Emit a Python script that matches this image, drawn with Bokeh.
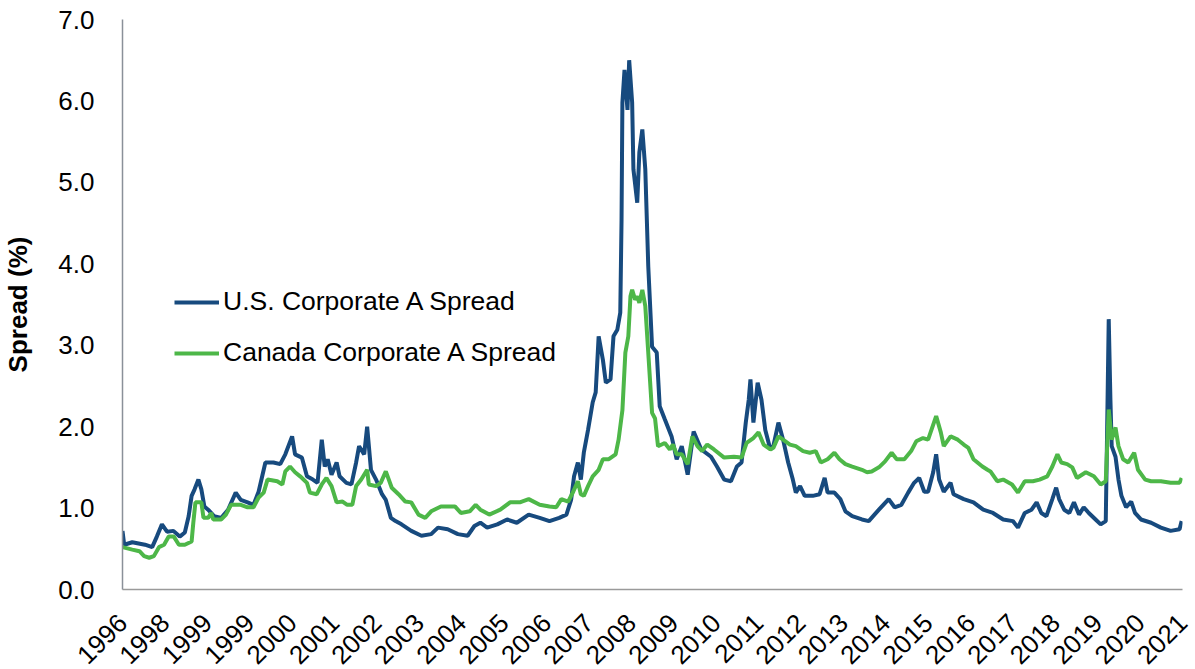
from math import pi
from bokeh.plotting import figure
from bokeh.models import Range1d, FixedTicker, Legend, LegendItem, NumeralTickFormatter
from bokeh.embed import file_html
from bokeh.resources import INLINE

tick_labels = ["1996", "1998", "1999", "1999", "2000", "2001", "2002", "2003", "2004",
               "2005", "2006", "2007", "2008", "2009", "2010", "2011", "2012", "2013",
               "2014", "2015", "2016", "2017", "2018", "2019", "2020", "2021"]
y_ticks = [0, 1, 2, 3, 4, 5, 6, 7]

# U.S. Corporate A Spread (x = position along the date axis, 1 unit per tick label)
us_t = [0.00, 0.04, 0.23, 0.53, 0.70, 0.81, 0.93, 1.05, 1.20, 1.35, 1.47, 1.56, 1.63, 1.70, 1.79,
        1.86, 1.93, 2.02, 2.16, 2.33, 2.49, 2.67, 2.79, 2.95, 3.09, 3.21, 3.37, 3.56, 3.72, 3.84,
        4.00, 4.07, 4.23, 4.35, 4.49, 4.60, 4.70, 4.77, 4.84, 4.93, 5.05, 5.12, 5.28, 5.40, 5.51,
        5.58, 5.70, 5.77, 5.86, 5.98, 6.12, 6.21, 6.33, 6.44, 6.58, 6.81, 7.05, 7.28, 7.44, 7.67,
        7.91, 8.14, 8.30, 8.44, 8.60, 8.84, 9.07, 9.30, 9.58, 9.84, 10.07, 10.30, 10.47, 10.58,
        10.65, 10.74, 10.81, 10.88, 10.98, 11.09, 11.16, 11.23, 11.33, 11.40, 11.51, 11.58, 11.67,
        11.74, 11.77, 11.79, 11.84, 11.91, 11.95, 12.02, 12.05, 12.14, 12.19, 12.26, 12.33, 12.40,
        12.49, 12.60, 12.67, 12.79, 12.95, 13.07, 13.19, 13.33, 13.47, 13.65, 13.88, 14.02, 14.19,
        14.35, 14.49, 14.60, 14.70, 14.77, 14.81, 14.88, 14.98, 15.07, 15.16, 15.28, 15.35, 15.47,
        15.58, 15.70, 15.81, 15.88, 15.98, 16.09, 16.28, 16.44, 16.56, 16.63, 16.79, 16.93, 17.05,
        17.21, 17.44, 17.60, 17.84, 18.07, 18.21, 18.37, 18.53, 18.67, 18.79, 18.91, 19.00, 19.12,
        19.19, 19.26, 19.37, 19.53, 19.60, 19.84, 20.07, 20.30, 20.53, 20.77, 21.00, 21.12, 21.28,
        21.44, 21.56, 21.67, 21.79, 21.93, 22.02, 22.09, 22.21, 22.33, 22.44, 22.56, 22.67, 22.79,
        22.95, 23.07, 23.19, 23.21, 23.26, 23.30, 23.33, 23.42, 23.49, 23.56, 23.67, 23.79, 23.88,
        24.02, 24.26, 24.49, 24.72, 24.93, 24.98]
us_v = [0.72, 0.55, 0.58, 0.55, 0.52, 0.65, 0.80, 0.71, 0.72, 0.65, 0.70, 0.90, 1.15, 1.23, 1.35,
        1.23, 1.02, 0.98, 0.90, 0.88, 0.98, 1.19, 1.10, 1.07, 1.04, 1.20, 1.56, 1.56, 1.54, 1.66,
        1.88, 1.66, 1.62, 1.39, 1.35, 1.31, 1.84, 1.51, 1.60, 1.41, 1.56, 1.39, 1.31, 1.29, 1.56,
        1.76, 1.66, 2.00, 1.47, 1.35, 1.17, 1.10, 0.88, 0.84, 0.80, 0.72, 0.66, 0.68, 0.76, 0.74,
        0.68, 0.66, 0.78, 0.82, 0.76, 0.80, 0.86, 0.82, 0.92, 0.88, 0.84, 0.88, 0.92, 1.10,
        1.39, 1.56, 1.35, 1.68, 1.96, 2.30, 2.42, 3.11, 2.82, 2.54, 2.58, 3.11, 3.19,
        3.40, 4.54, 5.98, 6.38, 5.89, 6.50, 5.98, 5.16, 4.75, 5.37, 5.65, 5.16, 3.97,
        2.98, 2.91, 2.25, 2.09, 1.88, 1.60, 1.76, 1.41, 1.94, 1.72, 1.63, 1.51, 1.35,
        1.33, 1.51, 1.56, 2.05, 2.33, 2.58, 2.05, 2.54, 2.33, 1.96, 1.72, 1.76, 2.05,
        1.84, 1.56, 1.35, 1.19, 1.27, 1.15, 1.15, 1.17, 1.37, 1.19, 1.19, 1.11, 0.96,
        0.90, 0.86, 0.84, 0.98, 1.11, 1.01, 1.04, 1.19, 1.31, 1.37, 1.20, 1.20, 1.44,
        1.66, 1.35, 1.20, 1.31, 1.17, 1.11, 1.07, 0.98, 0.94, 0.86, 0.84, 0.76, 0.94,
        0.98, 1.07, 0.94, 0.90, 1.11, 1.25, 1.11, 0.98, 0.94, 1.07, 0.92, 1.01, 0.94,
        0.86, 0.80, 0.84, 1.51, 3.32, 2.33, 1.76, 1.63, 1.35, 1.15, 1.01, 1.08, 0.94,
        0.86, 0.82, 0.76, 0.72, 0.74, 0.84]

# Canada Corporate A Spread
ca_t = [0.00, 0.23, 0.40, 0.51, 0.63, 0.74, 0.86, 0.98, 1.09, 1.21, 1.33, 1.47, 1.63, 1.67, 1.72,
        1.86, 1.91, 2.02, 2.09, 2.14, 2.33, 2.44, 2.56, 2.79, 2.95, 3.09, 3.21, 3.33, 3.42, 3.65,
        3.77, 3.84, 3.95, 4.07, 4.19, 4.35, 4.42, 4.58, 4.70, 4.81, 4.93, 5.05, 5.19, 5.30, 5.42,
        5.51, 5.63, 5.77, 5.81, 5.98, 6.09, 6.21, 6.35, 6.51, 6.67, 6.81, 6.98, 7.14, 7.28, 7.51,
        7.84, 7.98, 8.19, 8.33, 8.44, 8.65, 8.91, 9.14, 9.37, 9.58, 9.84, 10.07, 10.23, 10.35,
        10.51, 10.63, 10.74, 10.81, 10.88, 10.98, 11.09, 11.23, 11.33, 11.47, 11.63, 11.70, 11.79,
        11.86, 11.93, 11.98, 12.02, 12.09, 12.14, 12.19, 12.26, 12.33, 12.40, 12.49, 12.56, 12.63,
        12.79, 12.91, 12.98, 13.07, 13.19, 13.33, 13.44, 13.56, 13.67, 13.79, 13.95, 14.19, 14.42,
        14.60, 14.72, 14.88, 15.00, 15.12, 15.28, 15.35, 15.47, 15.58, 15.74, 15.88, 16.05, 16.21,
        16.35, 16.47, 16.63, 16.79, 16.91, 17.05, 17.21, 17.44, 17.56, 17.67, 17.84, 17.98, 18.14,
        18.26, 18.44, 18.60, 18.72, 18.88, 19.00, 19.19, 19.30, 19.37, 19.53, 19.70, 19.84, 19.95,
        20.07, 20.28, 20.40, 20.47, 20.63, 20.77, 20.98, 21.12, 21.28, 21.47, 21.63, 21.81, 21.93,
        22.05, 22.14, 22.28, 22.40, 22.51, 22.72, 22.91, 23.07, 23.19, 23.26, 23.33, 23.42, 23.49,
        23.60, 23.72, 23.86, 23.95, 24.12, 24.26, 24.49, 24.72, 24.93, 24.98]
ca_v = [0.52, 0.49, 0.47, 0.41, 0.39, 0.41, 0.52, 0.55, 0.65, 0.65, 0.55, 0.55, 0.59, 0.82, 1.07,
        1.07, 0.88, 0.88, 0.94, 0.86, 0.86, 0.92, 1.04, 1.04, 1.01, 1.01, 1.13, 1.19, 1.35, 1.33,
        1.29, 1.45, 1.51, 1.44, 1.39, 1.31, 1.19, 1.17, 1.29, 1.37, 1.27, 1.07, 1.08, 1.04, 1.04,
        1.27, 1.35, 1.47, 1.29, 1.27, 1.31, 1.45, 1.25, 1.17, 1.08, 1.07, 0.92, 0.88, 0.96, 1.02,
        1.02, 0.94, 0.96, 1.04, 0.98, 0.92, 0.98, 1.07, 1.07, 1.11, 1.04, 1.02, 1.01, 1.11,
        1.08, 1.20, 1.33, 1.17, 1.15, 1.27, 1.39, 1.47, 1.60, 1.60, 1.66, 1.84, 2.20,
        2.91, 3.11, 3.60, 3.68, 3.56, 3.60, 3.52, 3.68, 3.48, 2.91, 2.17, 2.10, 1.76,
        1.80, 1.72, 1.78, 1.66, 1.66, 1.54, 1.88, 1.76, 1.70, 1.78, 1.72, 1.62, 1.63,
        1.62, 1.80, 1.86, 1.93, 1.78, 1.72, 1.74, 1.88, 1.84, 1.78, 1.76, 1.70, 1.68,
        1.70, 1.56, 1.60, 1.68, 1.60, 1.54, 1.51, 1.47, 1.44, 1.45, 1.50, 1.57, 1.68,
        1.60, 1.60, 1.70, 1.82, 1.86, 1.84, 2.13, 1.93, 1.76, 1.88, 1.84, 1.78, 1.74,
        1.60, 1.51, 1.47, 1.45, 1.33, 1.35, 1.29, 1.19, 1.33, 1.33, 1.35, 1.39, 1.51,
        1.66, 1.56, 1.54, 1.50, 1.37, 1.44, 1.39, 1.29, 1.33, 2.21, 1.84, 1.99, 1.76,
        1.60, 1.56, 1.68, 1.47, 1.35, 1.33, 1.33, 1.31, 1.31, 1.37]

FONT = "Liberation Sans"

p = figure(frame_width=1060, frame_height=570,
           x_range=Range1d(0, 25), y_range=Range1d(0, 7),
           output_backend="svg", toolbar_location=None,
           min_border_left=112, min_border_top=19, min_border_right=12, min_border_bottom=0)
p.outline_line_color = None
p.xgrid.visible = False
p.ygrid.visible = False
p.background_fill_color = "white"
p.border_fill_color = "white"

r_us = p.line(us_t, us_v, line_color="#174A7E", line_width=4)
r_ca = p.line(ca_t, ca_v, line_color="#4DB748", line_width=4)

xa = p.xaxis[0]
xa.ticker = FixedTicker(ticks=list(range(len(tick_labels))))
xa.major_label_overrides = {i: s for i, s in enumerate(tick_labels)}
xa.major_label_orientation = pi / 4
xa.major_label_text_font = FONT
xa.major_label_text_font_size = "26px"
xa.major_label_text_color = "black"
xa.major_label_standoff = 23
xa.major_tick_line_color = None
xa.minor_tick_line_color = None
xa.axis_line_color = "#9a9a9a"
xa.axis_line_width = 1.5

ya = p.yaxis[0]
ya.ticker = FixedTicker(ticks=y_ticks)
ya.formatter = NumeralTickFormatter(format="0.0")
ya.major_label_text_font = FONT
ya.major_label_text_font_size = "26px"
ya.major_label_text_color = "black"
ya.major_label_standoff = 22
ya.major_tick_line_color = None
ya.minor_tick_line_color = None
ya.axis_line_color = "#8a9099"
ya.axis_line_width = 1.5
ya.axis_label = "Spread (%)"
ya.axis_label_text_font = FONT
ya.axis_label_text_font_size = "26px"
ya.axis_label_text_font_style = "bold"
ya.axis_label_text_color = "black"
ya.axis_label_standoff = 22

legend = Legend(items=[LegendItem(label="U.S. Corporate A Spread", renderers=[r_us]),
                       LegendItem(label="Canada Corporate A Spread", renderers=[r_ca])],
                location=(52, 221), orientation="vertical")
legend.border_line_color = None
legend.background_fill_alpha = 0
legend.padding = 0
legend.margin = 0
legend.spacing = 20
legend.glyph_width = 45
legend.glyph_height = 30
legend.label_height = 30
legend.label_standoff = 4
legend.label_text_font = FONT
legend.label_text_font_size = "26.5px"
legend.label_text_color = "black"
p.add_layout(legend)

open("out.html", "w").write(file_html(p, INLINE))
